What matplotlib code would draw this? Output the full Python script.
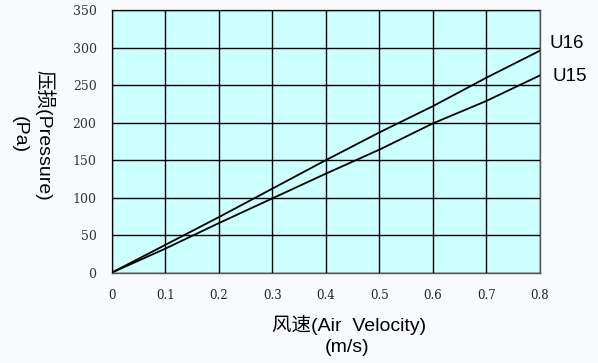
import numpy as np
import matplotlib
matplotlib.use('Agg')
import matplotlib.pyplot as plt

plt.rcParams['font.family'] = ['Liberation Sans', 'Noto Sans CJK SC', 'DejaVu Sans']

# data
velocity = [0, 0.1, 0.2, 0.3, 0.4, 0.5, 0.6, 0.7, 0.8]
u16 = [0, 37, 74, 112, 150, 187, 222, 260, 296]
u15 = [0, 32, 66, 99, 132, 164, 199, 229, 263]
series_names = ['U16', 'U15']

xticks = [0, 0.1, 0.2, 0.3, 0.4, 0.5, 0.6, 0.7, 0.8]
xtick_labels = ['0', '0.1', '0.2', '0.3', '0.4', '0.5', '0.6', '0.7', '0.8']
yticks = [0, 50, 100, 150, 200, 250, 300, 350]

fig = plt.figure(figsize=(5.98, 3.63), dpi=100)
fig.patch.set_facecolor('#f8fafd')
ax = fig.add_axes([0.187, 0.249, 0.716, 0.723])
ax.set_facecolor('#ccffff')

ax.plot(velocity, u16, color='black', lw=1.3)
ax.plot(velocity, u15, color='black', lw=1.3)

ax.set_xlim(0, 0.8)
ax.set_ylim(0, 350)
ax.set_xticks(xticks)
ax.set_xticklabels(xtick_labels, family='DejaVu Serif', fontsize=8.5, color='#222222')
ax.set_yticks(yticks)
ax.set_yticklabels([str(v) for v in yticks], family='DejaVu Serif', fontsize=9, color='#333333')
ax.tick_params(axis='both', length=0)
ax.tick_params(axis='x', pad=12)
ax.tick_params(axis='y', pad=11)
ax.grid(True, color='black', lw=1.0)
ax.set_axisbelow(False)
for s in ax.spines.values():
    s.set_color('#555555')
    s.set_linewidth(1.0)

# series labels at right end
ax.text(0.818, u16[-1] + 9, series_names[0], fontsize=13.5, va='center', ha='left', clip_on=False)
ax.text(0.823, u15[-1] - 1, series_names[1], fontsize=13.5, va='center', ha='left', clip_on=False)

fig.text(0.584, 0.105, '风速(Air  Velocity)', fontsize=14, ha='center', va='center')
fig.text(0.581, 0.044, '(m/s)', fontsize=14, ha='center', va='center')
fig.text(0.074, 0.628, '压损(Pressure)', fontsize=14, ha='center', va='center', rotation=-90)
fig.text(0.032, 0.628, '(Pa)', fontsize=14, ha='center', va='center', rotation=-90)

fig.savefig('out.png', dpi=100, facecolor=fig.get_facecolor())
